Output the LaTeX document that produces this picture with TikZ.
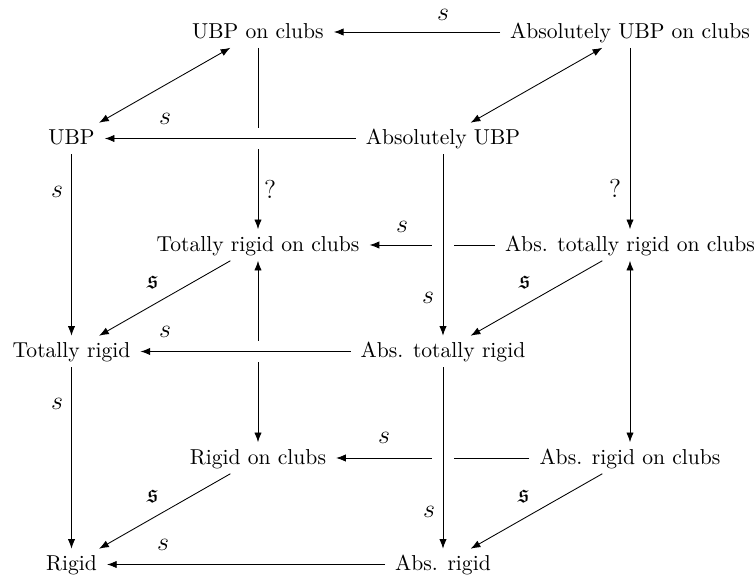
\documentclass[tikz,border=0pt]{standalone}
\usepackage{fontspec}
\setmainfont{Latin Modern Roman}
\newfontfamily\lmmath{Latin Modern Math}
\usetikzlibrary{arrows.meta}
\newcommand{\frs}{{\lmmath 𝔰}}
\begin{document}
\begin{tikzpicture}[x=0.463pt,y=-0.463pt,
  obj/.style={inner xsep=4.5pt, inner ysep=3pt, text height=7pt, text depth=1.2pt},
  lbl/.style={inner sep=0pt, font=\large},
  arr/.style={-{Latex[length=4.5pt,width=3.4pt]}, line width=0.4pt},
  darr/.style={{Latex[length=4.5pt,width=3.4pt]}-{Latex[length=4.5pt,width=3.4pt]}, line width=0.4pt},
  over/.style={preaction={draw=white, arrows=-, line width=10pt}}
]
\useasboundingbox (0,0) rectangle (756,578);
% objects
\node[obj] (UBPc)  at (258,32)    {UBP on clubs};
\node[obj] (AUBPc) at (630,32)    {Absolutely UBP on clubs};
\node[obj] (UBP)   at (71.5,138.5) {UBP};
\node[obj] (AUBP)  at (443,138.5) {Absolutely UBP};
\node[obj] (TRc)   at (258,245)   {Totally rigid on clubs};
\node[obj] (ATRc)  at (630,245)   {Abs. totally rigid on clubs};
\node[obj] (TR)    at (71.5,351.5) {Totally rigid};
\node[obj] (ATR)   at (443,351.5) {Abs. totally rigid};
\node[obj] (Rc)    at (258,458)   {Rigid on clubs};
\node[obj] (ARc)   at (630,458)   {Abs. rigid on clubs};
\node[obj] (R)     at (71.5,564.5) {Rigid};
\node[obj] (AR)    at (443,564.5) {Abs. rigid};
% connectors lying underneath
\draw[arr]  (AUBPc) -- (UBPc);
\draw[darr] (UBP) -- (UBPc);
\draw[darr] (AUBP) -- (AUBPc);
\draw[arr]  (UBP) -- (TR);
\draw[arr]  (UBPc) -- (TRc);
\draw[arr]  (AUBPc) -- (ATRc);
\draw[arr]  (ATRc) -- (TRc);
\draw[arr]  (TRc) -- (TR);
\draw[arr]  (ATRc) -- (ATR);
\draw[darr] (TRc) -- (Rc);
\draw[darr] (ATRc) -- (ARc);
\draw[arr]  (TR) -- (R);
\draw[arr]  (ARc) -- (Rc);
\draw[arr]  (Rc) -- (R);
\draw[arr]  (ARc) -- (AR);
\draw[arr]  (AR) -- (R);
% connectors crossing over
\draw[arr,over] (AUBP) -- (UBP);
\draw[arr,over] (AUBP) -- (ATR);
\draw[arr,over] (ATR) -- (TR);
\draw[arr,over] (ATR) -- (AR);
% labels
\node[lbl] (s1)  at (443,15)  {$s$};
\node[lbl] (s2)  at (165,119) {$s$};
\node[lbl] (s3)  at (57,192)  {$s$};
\node[lbl] (q1)  at (270,189) {?};
\node[lbl] (q2)  at (615,188) {?};
\node[lbl] (s4)  at (428,298) {$s$};
\node[lbl] (s5)  at (402,227) {$s$};
\node[lbl] (f1)  at (153,283) {\frs};
\node[lbl] (f2)  at (525,283) {\frs};
\node[lbl] (s6)  at (165,332) {$s$};
\node[lbl] (s7)  at (57,404)  {$s$};
\node[lbl] (s8)  at (163,545) {$s$};
\node[lbl] (f3)  at (153,497) {\frs};
\node[lbl] (s9)  at (429,512) {$s$};
\node[lbl] (f4)  at (524,497) {\frs};
\node[lbl] (s10) at (384,438) {$s$};
\end{tikzpicture}
\end{document}
